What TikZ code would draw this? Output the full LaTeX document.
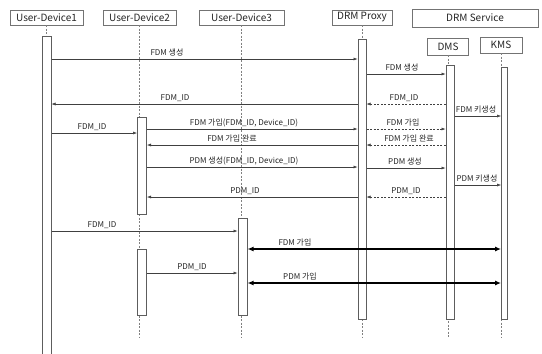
\documentclass[tikz,border=0pt]{standalone}
\usepackage{fontspec}
\setmainfont{Noto Sans CJK KR}
\usetikzlibrary{arrows.meta}
\definecolor{seqgray}{HTML}{404040}

\begin{document}
\begin{tikzpicture}[x=1pt,y=-1pt,
  head/.style={draw=gray!90!black,fill=white,inner sep=0pt,text=black!85,font=\fontsize{10}{12}\selectfont},
  bar/.style={draw=seqgray!85,line width=1pt,fill=white,inner sep=0pt,minimum width=8pt},
  life/.style={draw=gray,line width=0.5pt,dash pattern=on 2pt off 1.5pt},
  msg/.style={draw=seqgray,line width=0.5pt,-{Latex[length=4pt,width=3pt]}},
  ret/.style={msg,dash pattern=on 2pt off 1.5pt},
  big/.style={draw=black,line width=1.6pt,{Latex[length=6pt,width=5pt]}-{Latex[length=6pt,width=5pt]}},
  lbl/.style={font=\fontsize{8}{9}\selectfont,text=black!85,inner sep=0pt,anchor=base}]
\clip (0,0) rectangle (542,354);
\fill[white] (0,0) rectangle (542,354);
\node[head,minimum width=73pt,minimum height=15pt] (ud1) at (46.5,17.5) {User-Device1};
\node[head,minimum width=73pt,minimum height=15pt] (ud2) at (139.5,17.5) {User-Device2};
\node[head,minimum width=85pt,minimum height=15pt] (ud3) at (241.5,17.5) {User-Device3};
\node[head,minimum width=60pt,minimum height=15pt] (px) at (362,17.5) {DRM Proxy};
\node[head,minimum width=126pt,minimum height=18pt] (svc) at (475,18) {DRM Service};
\node[head,minimum width=41pt,minimum height=17pt] (dms) at (448,46.5) {DMS};
\node[head,minimum width=42pt,minimum height=16pt] (kms) at (501,45) {KMS};
\foreach \n in {ud1,ud2,ud3,px,dms,kms}
    \draw[life] (\n.south) -- (\n.south |- 0,338);
\foreach \n/\x/\top/\h/\w in {b1/46.5/36/330/9, b2/142/117/97/9, b2b/142/249/66/9,
    b3/242.5/218/97/9, bp/362/39/280/8, bd/450/65/254/8, bk/504.3/67/252/5.5}
    \node[bar,minimum width=\w pt,minimum height=\h pt,anchor=north] (\n) at (\x,\top) {};
\foreach \a/\b/\y/\lx/\txt/\st in {
    b1.east/bp.west/59/167/FDM 생성/msg,
    bp.east/bd.west/74/402/FDM 생성/msg,
    bd.west/bp.east/104/404/FDM\_ID/ret,
    bp.west/b1.east/104/175/FDM\_ID/msg,
    bd.east/bk.west/116/476/FDM 키생성/msg,
    b1.east/b2.west/133/92/FDM\_ID/msg,
    b2.east/bp.west/129/244/{FDM 가입(FDM\_ID, Device\_ID)}/msg,
    bp.east/bd.west/129/403/FDM 가입/ret,
    bd.west/bp.east/145/409/FDM 가입 완료/ret,
    bp.west/b2.east/145/232/FDM 가입 완료/msg,
    b2.east/bp.west/167/244/{PDM 생성(FDM\_ID, Device\_ID)}/msg,
    bp.east/bd.west/168/405/PDM 생성/msg,
    bd.east/bk.west/185/477/PDM 키생성/msg,
    bd.west/bp.east/197/406/PDM\_ID/ret,
    bp.west/b2.east/197/245/PDM\_ID/msg,
    b1.east/b3.west/231/102/FDM\_ID/msg,
    b2b.east/b3.west/273/192/PDM\_ID/msg}{
    \draw[\st] (\a |- 0,\y) -- (\b |- 0,\y);
    \node[lbl] at (\lx,\y-3.5) {\txt};
}
\draw[big] (b3.east |- 0,249) -- (bk.west |- 0,249);
\node[lbl] at (295,245.5) {FDM 가입};
\draw[big] (b3.east |- 0,283) -- (bk.west |- 0,283);
\node[lbl] at (300,279.5) {PDM 가입};
\end{tikzpicture}
\end{document}
